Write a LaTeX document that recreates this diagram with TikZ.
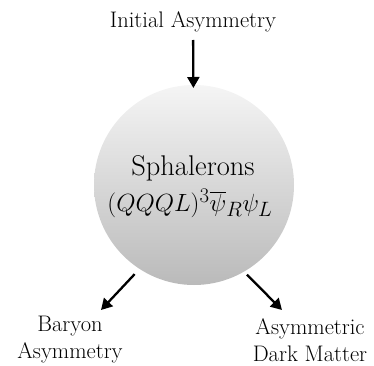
\documentclass[tikz,border=0pt]{standalone}
\usetikzlibrary{arrows.meta}
\begin{document}
\begin{tikzpicture}[x=1pt,y=1pt,
  lbl/.style={font=\fontsize{22.5}{27}\selectfont, align=center, inner sep=0pt},
  arr/.style={line width=2.3pt, -{Triangle[length=11pt,width=12pt]}},
  ball/.style={circle, minimum size=200pt, inner sep=0pt, top color=black!4, bottom color=black!27},
  txt/.style={font=\fontsize{28.5}{34}\selectfont, inner sep=0pt}]
\useasboundingbox (0,0) rectangle (374,365);
\node[lbl] (init) at (193,343) {Initial Asymmetry};
\node[ball] (sph) at (194,180) {};
\node[txt] (sname) at (193,197) {Sphalerons};
\node[txt] (sform) at (190,162) {$(QQQL)^3\overline{\psi}_R\psi_L$};
\node[lbl] (bar) at (70,25) {Baryon\\Asymmetry};
\node[lbl] (adm) at (310,25) {Asymmetric\\Dark Matter};
\coordinate (bl) at (101,55);
\coordinate (br) at (282,55);
\draw[arr, shorten <=18pt, shorten >=97pt] (init.center) -- (sph.center);
\draw[arr, shorten <=7pt] (sph.237) -- (bl);
\draw[arr, shorten <=4pt] (sph.300) -- (br);
\end{tikzpicture}
\end{document}
